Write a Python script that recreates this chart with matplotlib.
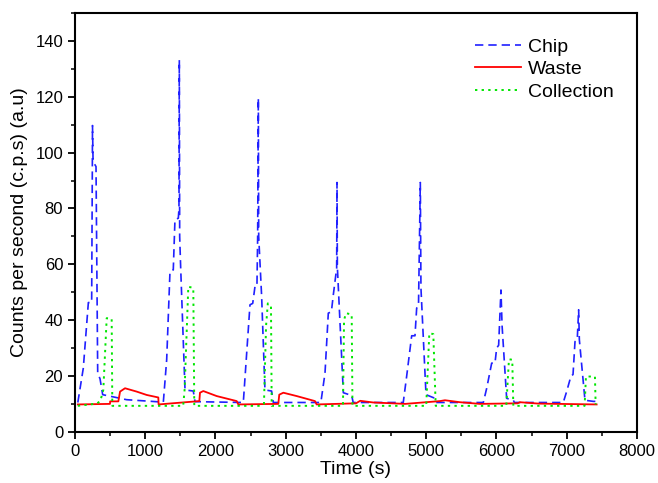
import matplotlib.pyplot as plt
from matplotlib.ticker import MultipleLocator

plt.rcParams['font.family'] = ['Liberation Sans', 'DejaVu Sans']

# Chip signal (time s, counts)
chip_t = [40, 118, 190, 237, 247, 249, 257, 299, 323, 356, 394, 735, 1210,
          1257, 1305, 1352, 1399, 1423, 1471, 1480, 1485, 1490, 1504, 1566, 1684, 1708, 2396,
          2491, 2530, 2562, 2590, 2600, 2610, 2615, 2657, 2704, 2799, 2823, 3500,
          3559, 3606, 3650, 3677, 3725, 3730, 3735, 3820, 3939, 3960, 4673,
          4721, 4793, 4840, 4864, 4890, 4916, 4925, 4997, 5125, 5149, 5813,
          5861, 5932, 5979, 6003, 6031, 6064, 6080, 6145, 6240, 6255, 6951,
          6999, 7061, 7090, 7118, 7150, 7170, 7180, 7260, 7378, 7420]
chip_y = [10.5, 22.8, 46.3, 46.3, 96.8, 109.7, 96.8, 95, 21, 19, 13.3, 11.5, 10.7,
          10.5, 25.8, 57.4, 58, 76, 76.5, 80, 133.2, 70, 59, 15, 14.6, 10.8, 10.5,
          45.5, 46, 52, 52, 69.3, 119.5, 70, 48.5, 15, 14.6, 10.5, 10.5,
          21, 42.5, 43, 49, 58.6, 89.3, 59, 14, 13, 10.5, 10.5,
          19.8, 34.4, 34.4, 44.3, 45, 89.3, 51.5, 13.3, 12, 10.5, 10.5,
          15.6, 24.6, 24.6, 30, 31, 50.8, 38, 12, 11.3, 10.5, 10.5,
          14.4, 20, 20.5, 32.3, 33, 43.7, 33, 11.3, 10.9, 10.9]

# Waste signal
waste_t = [40, 498, 500, 617, 641, 712, 878, 1020, 1186, 1190, 1770, 1779, 1826, 2017,
           2302, 2325, 2894, 2908, 2966, 3156, 3416, 3440, 4000, 4060, 4247, 4700,
           5196, 5267, 5481, 5765, 6300, 6335, 6600, 7426]
waste_y = [9.8, 10, 10.9, 10.9, 14.4, 15.6, 14.4, 13.2, 12.3, 9.8, 11, 14, 14.6, 12.8,
           11, 9.8, 10, 13.3, 14, 12.8, 11, 9.8, 10.2, 11.1, 10.5, 10,
           11, 11.3, 10.6, 10, 10.2, 10.6, 10.1, 9.8]

# Collection signal
coll_t = [40, 309, 360, 403, 451, 522, 531, 1540, 1560, 1613, 1684, 1698, 2633, 2690,
          2720, 2745, 2790, 2800, 3815, 3830, 3858, 3939, 3950, 5000, 5044, 5101, 5135,
          6140, 6178, 6225, 6240, 7255, 7274, 7402, 7412]
coll_y = [9.3, 10.1, 11, 15, 40.7, 40.5, 9.3, 9.3, 15, 52, 51.5, 9.3, 9.3, 10,
          38, 46, 45, 9.3, 9.3, 40, 42.5, 42, 9.3, 9.3, 35.3, 35, 9.3,
          9.3, 26, 25.8, 9.3, 9.3, 19.8, 19.8, 9.8]

fig = plt.figure(figsize=(6.58, 4.83), dpi=100)
ax = fig.add_axes([0.114, 0.106, 0.854, 0.867])

ax.plot(chip_t, chip_y, color='#2020ff', linestyle=(0, (5, 3)), linewidth=1.2, label='Chip')
ax.plot(waste_t, waste_y, color='#ff0000', linestyle='-', linewidth=1.3, label='Waste')
ax.plot(coll_t, coll_y, color='#00e600', linestyle=(0, (1.2, 2.2)), linewidth=1.4, label='Collection')

ax.set_xlim(0, 8000)
ax.set_ylim(0, 150)
ax.xaxis.set_major_locator(MultipleLocator(1000))
ax.xaxis.set_minor_locator(MultipleLocator(500))
ax.yaxis.set_major_locator(MultipleLocator(20))
ax.yaxis.set_minor_locator(MultipleLocator(10))
ax.set_yticks(range(0, 141, 20))
ax.tick_params(which='major', direction='out', length=5, width=1.3, labelsize=12)
ax.tick_params(which='minor', direction='out', length=3, width=1.1)
for s in ax.spines.values():
    s.set_linewidth(1.5)

ax.set_xlabel('Time (s)', fontsize=14, labelpad=2)
ax.set_ylabel('Counts per second (c.p.s) (a.u)', fontsize=14, labelpad=5)

ax.legend(loc='upper right', bbox_to_anchor=(0.99, 0.982), frameon=False, fontsize=14,
          handlelength=2.4, handletextpad=0.35, labelspacing=0.25)

fig.savefig('out.png', dpi=100)
